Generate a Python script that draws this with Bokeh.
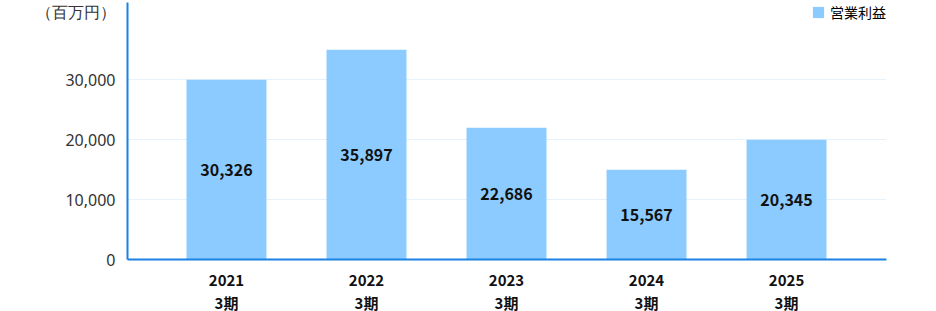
from bokeh.plotting import figure
from bokeh.models import Range1d, FixedTicker, LinearAxis, Legend, LegendItem, ColumnDataSource, NumeralTickFormatter
from bokeh.core.properties import value
from bokeh.embed import file_html
from bokeh.resources import INLINE

years = ["2021", "2022", "2023", "2024", "2025"]
periods = ["3期", "3期", "3期", "3期", "3期"]
# values printed on the bars
profit_labels = [30326, 35897, 22686, 15567, 20345]
# bar heights as drawn in the picture (bars are drawn to whole thousands)
bar_heights = [30000, 35000, 22000, 15000, 20000]
y_ticks = [0, 10000, 20000, 30000]
unit_label = "（百万円）"
unit_pos = 41600
series_name = "営業利益"

idx = list(range(len(years)))
src = ColumnDataSource(dict(
    x=idx,
    top=bar_heights,
    mid=[v / 2 for v in bar_heights],
    txt=[f"{v:,}" for v in profit_labels],
))

p = figure(width=936, height=311, output_backend="svg", toolbar_location=None,
           x_range=Range1d(-0.707, 4.714), y_range=Range1d(0, 42900),
           frame_width=759, frame_height=257,
           min_border_left=127, min_border_right=50, min_border_top=2, min_border_bottom=0)
p.outline_line_color = None
p.background_fill_color = "white"
p.border_fill_color = "white"

r = p.vbar(x="x", top="top", width=0.571, source=src, color="#8CCBFF", line_color=None)
p.text(x="x", y="mid", text="txt", source=src, text_align="center", text_baseline="middle",
       text_font=value("Noto Sans CJK JP"), text_font_style="bold", text_font_size="16px",
       text_color="#111111")

def style_x(ax, standoff):
    ax.ticker = FixedTicker(ticks=idx)
    ax.major_label_text_font = "Noto Sans CJK JP"
    ax.major_label_text_font_style = "bold"
    ax.major_label_text_font_size = "15px"
    ax.major_label_text_color = "#111111"
    ax.major_label_standoff = standoff
    ax.major_tick_line_color = None
    ax.minor_tick_line_color = None

ax1 = p.xaxis[0]
style_x(ax1, 9)
ax1.major_label_overrides = {i: y for i, y in zip(idx, years)}
ax1.axis_line_color = "#1A82E2"
ax1.axis_line_width = 2

ax2 = LinearAxis()
style_x(ax2, -3)
ax2.major_label_overrides = {i: q for i, q in zip(idx, periods)}
ax2.axis_line_color = None
p.add_layout(ax2, "below")

p.yaxis.ticker = FixedTicker(ticks=y_ticks + [unit_pos])
p.yaxis.formatter = NumeralTickFormatter(format="0,0")
p.yaxis.major_label_overrides = {unit_pos: unit_label}
p.yaxis.major_label_text_font = "Noto Sans"
p.yaxis.major_label_text_font_size = "16px"
p.yaxis.major_label_text_color = "#333333"
p.yaxis.major_label_standoff = 6
p.yaxis.axis_line_color = "#1A82E2"
p.yaxis.axis_line_width = 2
p.yaxis.major_tick_line_color = None
p.yaxis.minor_tick_line_color = None

p.xgrid.grid_line_color = None
p.ygrid.grid_line_color = "#E6F2FB"
p.ygrid.ticker = FixedTicker(ticks=[10000, 20000, 30000])

legend = Legend(items=[LegendItem(label=series_name, renderers=[r])], location="top_right",
                border_line_color=None, background_fill_alpha=0, margin=0, padding=0,
                glyph_width=14, glyph_height=14, label_standoff=5, label_height=14,
                label_text_font="Noto Sans CJK JP", label_text_font_size="14px",
                label_text_color="#000000")
p.add_layout(legend)

open("out.html", "w").write(file_html(p, INLINE))
